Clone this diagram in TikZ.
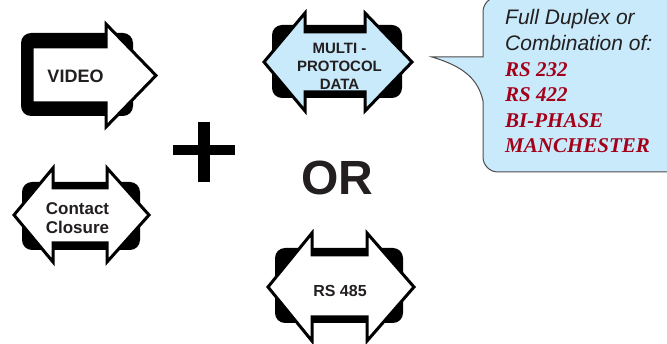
\documentclass[tikz,border=0pt]{standalone}
\usepackage{fontspec}
\setmainfont{Liberation Sans}
\newfontfamily\timesfont{Liberation Serif}
\definecolor{databg}{RGB}{200,234,250}
\definecolor{mandred}{RGB}{165,0,25}
\definecolor{inkgray}{RGB}{35,31,32}
\begin{document}
\begin{tikzpicture}[x=1pt,y=-1pt,
    frame/.style={fill=black,rounded corners=10pt},
    arrowshape/.style={draw=black,line width=3pt,fill=white},
    tag/.style={inner sep=0pt,align=center,text=inkgray,font=\bfseries}]
    \clip (0,0) rectangle (667,344);
    \useasboundingbox (0,0) rectangle (667,344);
    % video, one way
    \fill[frame] (21,33) rectangle (133,116);
    \draw[arrowshape] (32,47) -- (106,47) -- (106,24) -- (156,75.5) -- (106,127)
        -- (106,103) -- (32,103) -- cycle;
    \node[tag,font=\bfseries\fontsize{18}{20}\selectfont] (video) at (75.5,76) {VIDEO};
    % contact closure, both ways
    \fill[frame] (22,182) rectangle (140,250);
    \draw[arrowshape] (53,188) -- (107,188) -- (107,168) -- (149,215) -- (107,262)
        -- (107,243) -- (53,243) -- (53,262) -- (14,215) -- (53,168) -- cycle;
    \node[tag,font=\bfseries\fontsize{17}{19}\selectfont] (contact) at (77.5,218) {Contact\\Closure};
    % plus
    \fill (173,145) rectangle (235,155);
    \fill (198,122) rectangle (210,182);
    % multi-protocol data
    \fill[frame] (272,25) rectangle (402,98);
    \draw[arrowshape,fill=databg] (305,32) -- (365,32) -- (365,13) -- (412,62) -- (365,111)
        -- (365,92) -- (305,92) -- (305,111) -- (264,62) -- (305,13) -- cycle;
    \node[tag,font=\bfseries\fontsize{15}{18}\selectfont] (multi) at (339.5,66.5) {MULTI -\\PROTOCOL\\DATA};
    % or
    \node[tag,font=\bfseries\fontsize{48}{48}\selectfont] (or) at (337,178) {OR};
    % rs 485
    \fill[frame] (275,248) rectangle (403,323);
    \draw[arrowshape] (312,255) -- (367,255) -- (367,233) -- (414,287) -- (367,341)
        -- (367,317) -- (312,317) -- (312,341) -- (268,287) -- (312,233) -- cycle;
    \node[tag,font=\bfseries\fontsize{16}{18}\selectfont] (rs485) at (340,291) {RS 485};
    % callout
    \draw[draw=inkgray!80,line width=1pt,fill=databg] (432,57) -- (483,57) -- (483,40)
        [rounded corners=15pt] -- (483,-3) -- (690,-3) -- (690,172) -- (483,172) -- (483,130)
        [sharp corners] -- (483,101) .. controls (478,78) and (462,66) .. (432,57) -- cycle;
    \node[inner sep=0pt,anchor=north west,align=left,text=inkgray,
        font=\itshape\fontsize{21}{25.6}\selectfont] (note) at (505,9.5)
        {Full Duplex or\\Combination of:\\
        {\timesfont\bfseries\color{mandred}RS 232}\\
        {\timesfont\bfseries\color{mandred}RS 422}\\
        {\timesfont\bfseries\color{mandred}BI-PHASE}\\
        {\timesfont\bfseries\color{mandred}MANCHESTER}};
\end{tikzpicture}
\end{document}
